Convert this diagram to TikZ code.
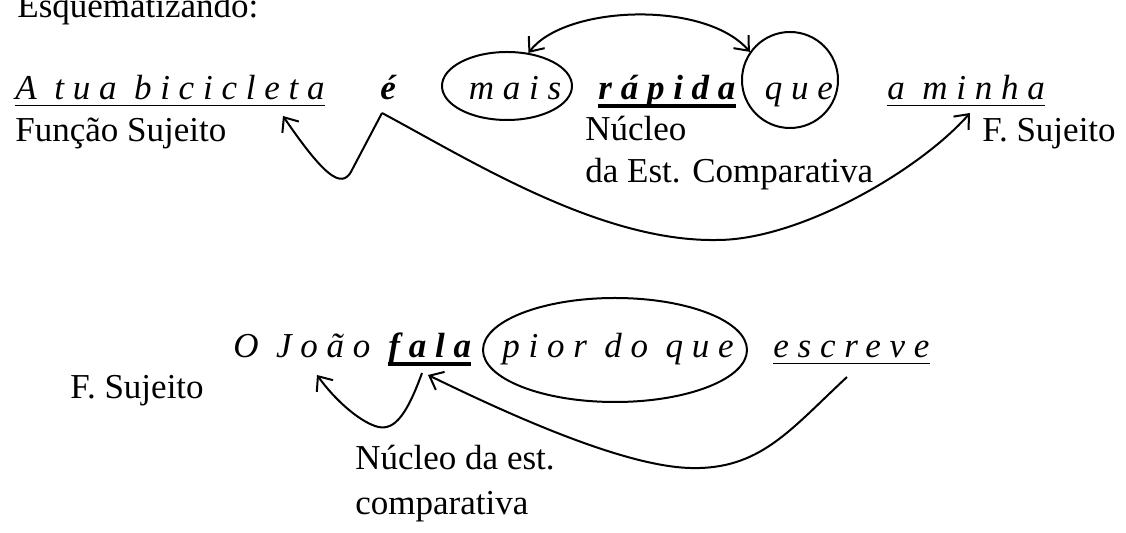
\documentclass[tikz,border=0pt]{standalone}
\usepackage{fontspec}
\setmainfont{Liberation Serif}
\newfontfamily\spacedfont[LetterSpace=25]{Liberation Serif}
\usetikzlibrary{arrows.meta, shapes.geometric}

\begin{document}
\begin{tikzpicture}[x=0.5pt, y=-0.5pt]
\tikzstyle{plain}=[anchor=base west, inner sep=0pt, font=\fontsize{17.5}{21}\selectfont]
\tikzstyle{word}=[anchor=base west, inner sep=0pt, font=\fontsize{17.5}{21}\selectfont\spacedfont\itshape]
\tikzstyle{strong}=[word, font=\fontsize{17.5}{21}\selectfont\spacedfont\itshape\bfseries]
\tikzstyle{ring}=[draw, ellipse, line width=1pt, inner sep=0pt]
\tikzstyle{uline}=[line width=0.8pt]
\tikzstyle{thickline}=[line width=1.6pt]
\tikzstyle{curvearrow}=[-{Straight Barb[length=6pt, width=10pt]}, line width=1pt]
\tikzstyle{twoway}=[{Straight Barb[length=6pt, width=10pt]}-{Straight Barb[length=6pt, width=10pt]}, line width=1pt]

\useasboundingbox (0,0) rectangle (1126,533);

% heading
\node (esq) [plain] at (17,18) {Esquematizando:};

% first sentence
\node (bici) [word] at (15,100) {A tua bicicleta};
\node (verbE) [strong] at (380,100) {é};
\node (mais) [word, anchor=base] at (515,100) {mais};
\node (maisRing) [ring, minimum width=65pt, minimum height=34pt] at (507,86) {};
\node (rapida) [strong] at (598,100) {rápida};
\node (que) [word, anchor=base] at (799,100) {que};
\node (queRing) [ring, minimum width=48pt, minimum height=48pt] at (790,80) {};
\node (minha) [word] at (887,100) {a minha};

\draw[uline] ([yshift=-2.8pt]bici.base west) -- ([yshift=-2.8pt]bici.base east);
\draw[thickline] ([yshift=-3pt]rapida.base west) -- ([yshift=-3pt]rapida.base east);
\draw[uline] ([yshift=-2.8pt]minha.base west) -- ([yshift=-2.8pt]minha.base east);

% labels
\node (fsuj) [plain] at (15,142) {Função Sujeito};
\node (nucleo) [plain] at (585,141) {Núcleo};
\node (comp) [plain] at (585,183) {da Est. Comparativa};
\node (fsujB) [plain] at (982,142) {F. Sujeito};

% connections
\coordinate (eFoot) at (382,113);
\coordinate (biciTip) at (283,116);
\coordinate (minhaTip) at (970,113);
\draw[twoway] (maisRing.57) .. controls (565,5) and (705,0) .. (queRing.145);
\draw[curvearrow] (eFoot) -- (353,168) .. controls (344,188) and (330,185) .. (biciTip);
\draw[curvearrow] (eFoot) .. controls (470,160) and (600,242) .. (717,240)
  .. controls (800,240) and (920,170) .. (minhaTip);

% second sentence
\node (joao) [word] at (233,358) {O João};
\node (fala) [strong] at (388,358) {fala};
\node (pior) [word, anchor=base] at (618,358) {pior do que};
\node (piorRing) [ring, minimum width=132pt, minimum height=52pt] at (615,350) {};
\node (escreve) [word] at (773,358) {escreve};

\draw[thickline] ([yshift=-3pt]fala.base west) -- ([yshift=-3pt]fala.base east);
\draw[uline] ([yshift=-2.8pt]escreve.base west) -- ([yshift=-2.8pt]escreve.base east);

\node (fsujC) [plain] at (70,399) {F. Sujeito};
\node (nucleoB) [plain] at (355,470) {Núcleo da est.};
\node (compB) [plain] at (355,515) {comparativa};

\coordinate (falaFoot) at (422,373);
\coordinate (joaoTip) at (317,375);
\coordinate (escreveFoot) at (847,377);
\coordinate (falaTip) at (428,375);
\draw[curvearrow] (falaFoot) .. controls (405,420) and (392,432) .. (375,426)
  .. controls (358,420) and (335,400) .. (joaoTip);
\draw[curvearrow] (escreveFoot) .. controls (790,430) and (760,470) .. (690,468)
  .. controls (620,466) and (500,410) .. (falaTip);

\end{tikzpicture}
\end{document}
